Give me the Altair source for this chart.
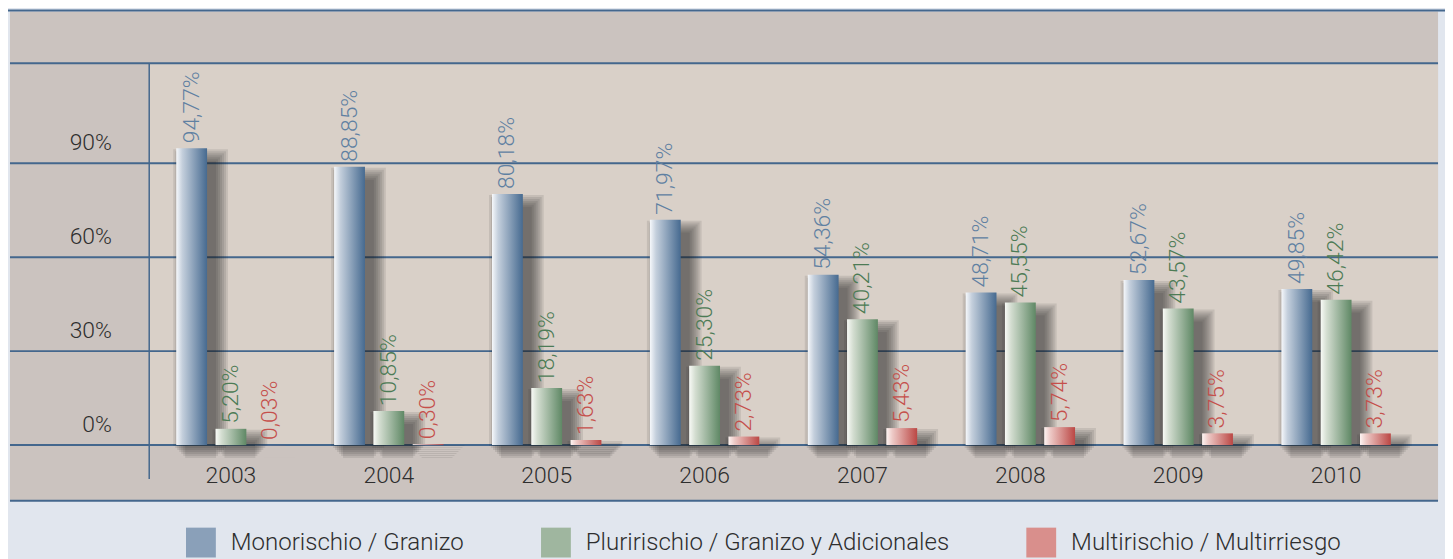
import altair as alt
import pandas as pd

years = ["2003", "2004", "2005", "2006", "2007", "2008", "2009", "2010"]
series = ["Monorischio / Granizo", "Pluririschio / Granizo y Adicionales", "Multirischio / Multirriesgo"]
mono = [94.77, 88.85, 80.18, 71.97, 54.36, 48.71, 52.67, 49.85]
pluri = [5.20, 10.85, 18.19, 25.30, 40.21, 45.55, 43.57, 46.42]
multi = [0.03, 0.30, 1.63, 2.73, 5.43, 5.74, 3.75, 3.73]
y_ticks = [0, 30, 60, 90]

W, H = 1296, 384
YMAX = 121.9
FONT = "Roboto"
FW = 300
GRID = "#44678d"

rows = []
for s, vals in zip(series, [mono, pluri, multi]):
    for yr, v in zip(years, vals):
        rows.append({"year": yr, "series": s, "value": v})
df = pd.DataFrame(rows)
ticks_df = pd.DataFrame({"value": y_ticks})
one = pd.DataFrame({"k": [0]})

xscale = alt.Scale(domain=years, paddingInner=0, paddingOuter=0.0816, align=0.108)
yscale = alt.Scale(domain=[0, YMAX], nice=False, zero=True)

x_enc = alt.X("year:N", scale=xscale, sort=years,
              axis=alt.Axis(title=None, domain=False, ticks=False, tickSize=0, grid=False,
                            labelPadding=20, labelFontSize=23, labelFont=FONT,
                            labelFontWeight=FW,
                            labelColor="#2e2e2e", labelAngle=0, zindex=2))
y_enc = alt.Y("value:Q", scale=yscale,
              axis=alt.Axis(title=None, domain=False, ticks=False, tickSize=0, grid=False,
                            values=y_ticks, labelExpr="datum.value + '%'",
                            labelPadding=38, labelOffset=-21, labelFontSize=23,
                            labelFont=FONT, labelFontWeight=FW,
                            labelColor="#2e2e2e", zindex=2))


def grad(c0, c1, c2):
    return alt.LinearGradient(
        gradient="linear", x1=0, x2=1, y1=0, y2=0,
        stops=[alt.GradientStop(color=c0, offset=0),
               alt.GradientStop(color=c1, offset=0.2),
               alt.GradientStop(color=c2, offset=1)])


fills = [grad("#f6f8fb", "#c4cfdc", "#466a90"),
         grad("#f8faf6", "#d3ddd0", "#5f8865"),
         grad("#fdf4f2", "#edc9c6", "#bb4744")]
label_colors = ["#5f80a2", "#4c7b55", "#c54f4b"]
legend_colors = ["#8aa0b9", "#9fb69f", "#d98f8c"]
offsets = [-39.5, 0, 39.5]
BW = 31

# decorative frame
frame = alt.Chart(one).mark_rect(color="#cbc3bf").encode(
    x=alt.value(-140), x2=alt.value(W), y=alt.value(-52), y2=alt.value(440))
inner = alt.Chart(one).mark_rect(color="#d9d0c8").encode(
    x=alt.value(0), x2=alt.value(W), y=alt.value(0), y2=alt.value(H))
top_line = alt.Chart(one).mark_rule(color=GRID, strokeWidth=2).encode(
    x=alt.value(-142), x2=alt.value(W + 7), y=alt.value(-53))
top_grid = alt.Chart(one).mark_rule(color=GRID, strokeWidth=2).encode(
    x=alt.value(-140), x2=alt.value(W), y=alt.value(0))
bottom_line = alt.Chart(one).mark_rule(color=GRID, strokeWidth=2).encode(
    x=alt.value(-140), x2=alt.value(W), y=alt.value(440))
vaxis = alt.Chart(one).mark_rule(color=GRID, strokeWidth=1.5).encode(
    x=alt.value(0), y=alt.value(0), y2=alt.value(418))
grid = alt.Chart(ticks_df).mark_rule(color=GRID, strokeWidth=2).encode(
    y=y_enc, x=alt.value(-140), x2=alt.value(W))

layers = [frame, inner, grid, top_grid, top_line, bottom_line, vaxis]

base = alt.Chart(df)

# soft drop shadows (stacked translucent bars)
for i, s in enumerate(series):
    for sp in range(0, 14, 2):
        layers.append(
            base.transform_filter(alt.datum.series == s)
            .mark_bar(width=BW + 2 * sp, xOffset=offsets[i] + 9,
                      yOffset=13 - sp, y2Offset=12 + sp,
                      color="#1e1e1e", opacity=0.1)
            .encode(x=x_enc, y=y_enc))

# bars and labels
for i, s in enumerate(series):
    sub = base.transform_filter(alt.datum.series == s)
    layers.append(sub.mark_bar(width=BW, xOffset=offsets[i], color=fills[i])
                  .encode(x=x_enc, y=y_enc))
    layers.append(
        sub.transform_calculate(
            label="replace(format(datum.value, '.2f'), '.', ',') + '%'")
        .mark_text(angle=270, align="left", baseline="middle", dx=5,
                   xOffset=offsets[i], fontSize=23, font=FONT, fontWeight=FW,
                   color=label_colors[i])
        .encode(x=x_enc, y=y_enc, text="label:N"))

# legend carrier
layers.append(
    base.mark_square(opacity=0).encode(
        x=x_enc, y=y_enc,
        color=alt.Color("series:N", scale=alt.Scale(domain=series, range=legend_colors),
                        legend=alt.Legend(orient="none", legendX=37, legendY=467,
                                          direction="horizontal", title=None,
                                          symbolType="square", symbolSize=900,
                                          symbolOpacity=1, symbolStrokeWidth=0,
                                          labelFontSize=24.2, labelFont=FONT,
                                          labelFontWeight=FW,
                                          labelColor="#2e2e2e", labelOffset=15,
                                          columnPadding=77, padding=0,
                                          labelLimit=0))))

chart = alt.layer(*layers).properties(
    width=W, height=H,
    autosize=alt.AutoSizeParams(type="none"),
    padding={"left": 142, "top": 54, "right": 7, "bottom": 113},
    background="#e1e6ee",
).configure_view(stroke=None)

chart.save("out.html", embed_options={"renderer": "svg", "actions": False})
